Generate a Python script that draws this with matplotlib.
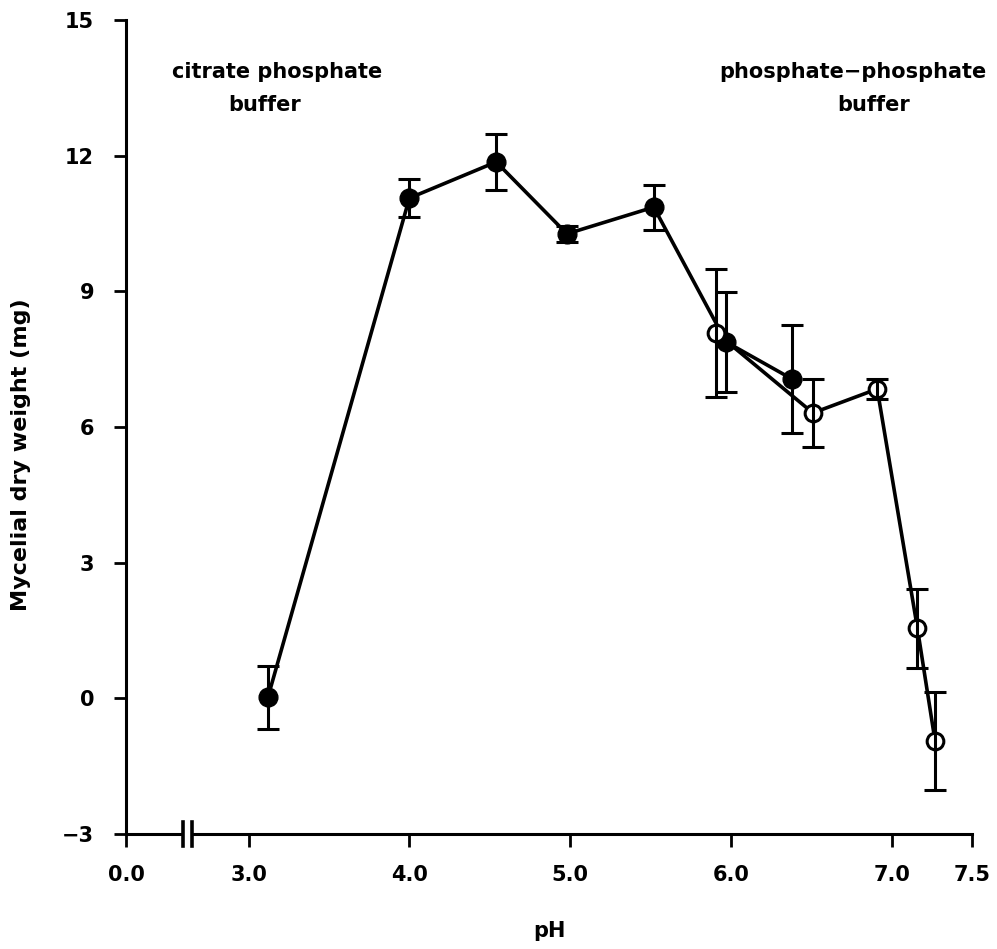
import matplotlib.pyplot as plt
from matplotlib.patches import Rectangle

# citrate phosphate buffer (filled circles)
filled_ph = [3.12, 4.00, 4.54, 4.98, 5.52, 5.97, 6.38]
filled_w = [0.02, 11.06, 11.86, 10.27, 10.86, 7.88, 7.06]
filled_err = [0.70, 0.42, 0.61, 0.18, 0.50, 1.10, 1.20]

# phosphate-phosphate buffer (open circles)
open_ph = [5.91, 6.51, 6.91, 7.16, 7.27]
open_w = [8.08, 6.31, 6.84, 1.55, -0.95]
open_err = [1.42, 0.75, 0.22, 0.87, 1.08]

x_ticks = [0.0, 3.0, 4.0, 5.0, 6.0, 7.0, 7.5]
x_tick_labels = ['0.0', '3.0', '4.0', '5.0', '6.0', '7.0', '7.5']
y_ticks = [-3, 0, 3, 6, 9, 12, 15]

# broken axis: 0.0 is drawn just left of the break
zero_pos = 2.2375
brk = (2.59, 2.645)

def xpos(v):
    return zero_pos if v == 0.0 else v

plt.rcParams['font.family'] = 'DejaVu Sans'
plt.rcParams['font.weight'] = 'bold'

fig = plt.figure(figsize=(9.97, 9.49), dpi=100)
ax = fig.add_axes([0.1264, 0.1212, 0.8486, 0.8578])

lw = 2.6
ax.plot(filled_ph, filled_w, color='black', lw=lw, zorder=2)
ax.plot(open_ph, open_w, color='black', lw=lw, zorder=2)
ax.plot(filled_ph, filled_w, 'o', ms=13.5, color='black', zorder=3)
ax.plot(open_ph, open_w, 'o', ms=12, mfc='white', mec='black', mew=2.2, zorder=3)
ax.errorbar(filled_ph, filled_w, yerr=filled_err, fmt='none', ecolor='black',
            elinewidth=2.2, capsize=8, capthick=2.2, zorder=4)
ax.errorbar(open_ph, open_w, yerr=open_err, fmt='none', ecolor='black',
            elinewidth=2.2, capsize=8, capthick=2.2, zorder=4)

ax.set_xlim(zero_pos, 7.5)
ax.set_ylim(-3, 15)
ax.set_xticks([xpos(v) for v in x_ticks])
ax.set_xticklabels(x_tick_labels)
ax.set_yticks(y_ticks)
ax.set_yticklabels(['\u22123' if t < 0 else str(t) for t in y_ticks])

for s in ['top', 'right']:
    ax.spines[s].set_visible(False)
for s in ['left', 'bottom']:
    ax.spines[s].set_linewidth(2.2)
ax.tick_params(axis='both', direction='out', length=9, width=2.0, labelsize=15)
ax.tick_params(axis='x', pad=13)
ax.tick_params(axis='y', pad=14)

# break marks on the x axis
ax.add_patch(Rectangle((brk[0], -3.1), brk[1] - brk[0], 0.2, facecolor='white',
                       edgecolor='none', clip_on=False, zorder=5))
for b in brk:
    ax.plot([b, b], [-3.27, -3 + 0.27], color='black', lw=2.6, clip_on=False, zorder=6)

ax.set_xlabel('pH', fontsize=15, fontweight='bold', labelpad=26)
ax.set_ylabel('Mycelial dry weight (mg)', fontsize=16, fontweight='bold')
ax.yaxis.set_label_coords(-0.112, 0.466)

ax.text(3.175, 13.84, 'citrate phosphate', ha='center', va='center',
        fontsize=15, fontweight='bold')
ax.text(3.10, 13.12, 'buffer', ha='center', va='center',
        fontsize=15, fontweight='bold')
ax.text(6.76, 13.84, 'phosphate\u2212phosphate', ha='center', va='center',
        fontsize=15, fontweight='bold')
ax.text(6.89, 13.12, 'buffer', ha='center', va='center',
        fontsize=15, fontweight='bold')

fig.savefig('out.png', dpi=100)
